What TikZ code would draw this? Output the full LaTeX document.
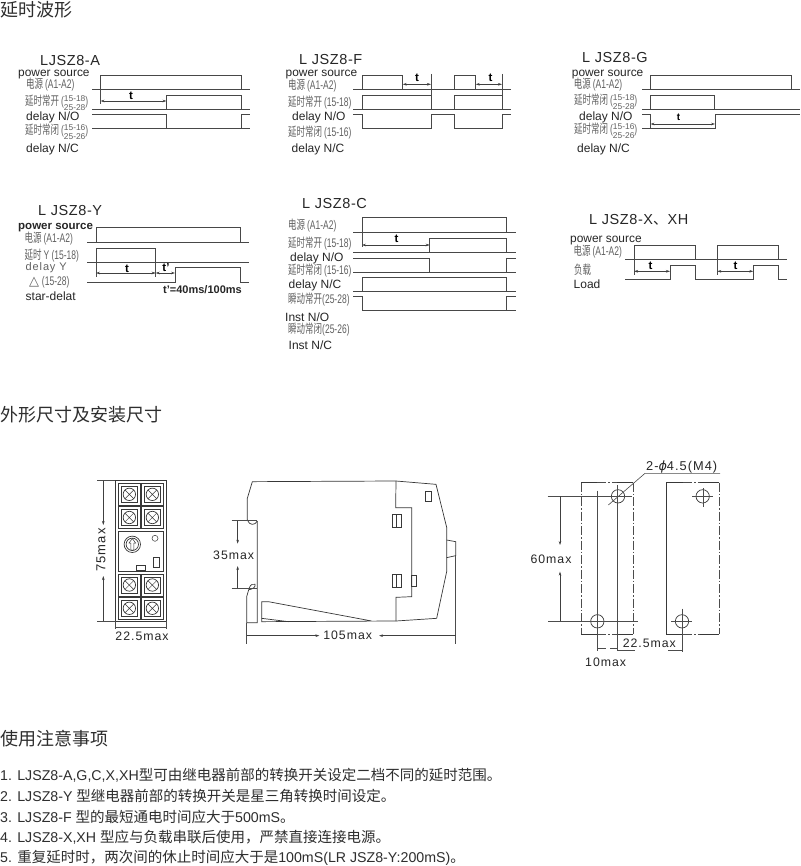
\documentclass[tikz,border=0pt]{standalone}
\usepackage{fontspec}
\usetikzlibrary{arrows.meta}
\setmainfont{Liberation Sans}
\newfontfamily\cjkf{Noto Sans CJK SC}
\newfontfamily\spacedf[LetterSpace=8]{Liberation Sans}
\newfontfamily\titlef[LetterSpace=4]{Liberation Sans}
\newfontfamily\dejaf{DejaVu Sans}
\newcommand\sz[1]{\fontsize{#1}{#1}\selectfont}
\newcommand\CJ[1]{{\cjkf #1}}
\newcommand\NC[1]{\scalebox{0.68}[1]{\sz{12.5}\cjkf #1}}
\newcommand\NL[1]{\scalebox{0.68}[1]{\sz{12.5}\selectfont #1}}
\newcommand\stk[2]{\raisebox{-0.34\height}{\sz{8.4}\shortstack{#1\\[0.3pt]#2}}}
\tikzset{
  x=1pt,y=-1pt,
  wave/.style={draw=black!72,line width=0.9pt},
  thin line/.style={draw=black!70,line width=0.6pt},
  outlinestroke/.style={draw=black!78,line width=0.7pt},
  dimarrow/.style={draw=black!75,line width=0.55pt,-{Stealth[length=4pt,width=2.6pt]}},
  biarrow/.style={draw=black!75,line width=0.55pt,{Stealth[length=4pt,width=2.6pt]}-{Stealth[length=4pt,width=2.6pt]}},
  dashdotline/.style={draw=black!70,line width=0.7pt,dash pattern=on 9pt off 2pt on 1.5pt off 2pt},
  lab/.style={anchor=west,inner sep=0pt,text=black!85},
  en/.style={lab,font=\sz{12},yshift=-0.8pt},
  ps/.style={lab,font=\sz{11.9},yshift=-2.5pt},
  cn/.style={lab,text=black!62},
  titlelab/.style={lab,font=\sz{14.5}\titlef,yshift=-1.5pt},
  dimlab/.style={inner sep=0pt,text=black!85,font=\sz{12.3}\spacedf},
  tlab/.style={inner sep=0pt,text=black,font=\sz{11.5}\bfseries},
  heading/.style={lab,font=\sz{18}\cjkf,text=black!82,yshift=-0.7pt},
  note/.style={lab,font=\sz{14.2},text=black!82},
}
\newcommand\terminal[4]{%
  \draw[outlinestroke,line width=0.9pt] (#1,#2) rectangle (#3,#4);
  \draw[outlinestroke] (#1+2.5,#2+3) rectangle (#3-2.5,#4-3);
  \draw[outlinestroke] ({(#1+#3)/2},{(#2+#4)/2}) circle (6.2);
  \draw[outlinestroke,line width=0.5pt] ({(#1+#3)/2-4.4},{(#2+#4)/2-4.4}) -- ({(#1+#3)/2+4.4},{(#2+#4)/2+4.4})
     ({(#1+#3)/2-4.4},{(#2+#4)/2+4.4}) -- ({(#1+#3)/2+4.4},{(#2+#4)/2-4.4});
}
\begin{document}
\begin{tikzpicture}
\path[use as bounding box,fill=white] (0,0) rectangle (800,866);

% headings
\node[heading] (h1) at (0,9) {延时波形};
\node[heading] (h2) at (0,414) {外形尺寸及安装尺寸};
\node[heading] (h3) at (0,738) {使用注意事项};

% ---------- A
\node[titlelab] (ta) at (40,59) {LJSZ8-A};
\node[ps] at (18,72) {power source};
\node[cn] at (26,85) {\NC{电源 }\NL{(A1-A2)}};
\node[cn] at (25,102.5) {\NC{延时常开 }\NL{(}\stk{15-18}{25-28}\NL{)}};
\node[en] at (26,116.7) {delay N/O};
\node[cn] at (25,131.5) {\NC{延时常闭 }\NL{(}\stk{15-16}{25-26}\NL{)}};
\node[en] at (26,149) {delay N/C};
\draw[wave] (92,89.5) -- (250,89.5) (100.5,89.5) |- (241,75.5) -- (241,89.5);
\draw[wave] (92,109.5) -- (250,109.5) (166.5,109.5) |- (241,95.7) -- (241,109.5);
\draw[wave] (92,114.2) -- (166.5,114.2) -- (166.5,128.5) -- (241,128.5) (92,128.5) -- (250,128.5) (241,128.5) |- (250,114.2);
\draw[thin line] (100.5,89.5) -- (100.5,104);
\draw[biarrow] (100.5,101) -- (166.5,101);
\node[tlab] at (131,95.5) {t};

% ---------- F
\node[titlelab] at (299,58) {L JSZ8-F};
\node[ps] at (285.5,72) {power source};
\node[cn] at (288,86) {\NC{电源 }\NL{(A1-A2)}};
\node[cn] at (288,103) {\NC{延时常开 }\NL{(15-18)}};
\node[en] at (292,116.5) {delay N/O};
\node[cn] at (288,133) {\NC{延时常闭 }\NL{(15-16)}};
\node[en] at (291.5,149) {delay N/C};
\draw[wave] (353,89.5) -- (511,89.5)
  (362,89.5) |- (402.7,75.5) -- (402.7,89.5)
  (454,89.5) |- (475.7,75.5) -- (475.7,89.5);
\draw[wave] (353,109.5) -- (511,109.5)
  (362,109.5) |- (431,95.7) -- (431,109.5)
  (454,109.5) |- (502,95.7) -- (502,109.5);
\draw[wave] (353,114.5) -- (362,114.5) -- (362,128.5) -- (431,128.5) -- (431,114.5) -- (454,114.5) -- (454,128.5) -- (502,128.5) -- (502,114.5) -- (511,114.5);
\draw[thin line] (431,74) -- (431,95.7) (502,74) -- (502,95.7);
\draw[biarrow] (402.7,84.3) -- (431,84.3);
\draw[biarrow] (475.7,84.3) -- (502,84.3);
\node[tlab] at (417,78) {t};
\node[tlab] at (490.5,78) {t};

% ---------- G
\node[titlelab] at (582,56) {L JSZ8-G};
\node[ps] at (571.7,72) {power source};
\node[cn] at (573.7,85) {\NC{电源 }\NL{(A1-A2)}};
\node[cn] at (574,102) {\NC{延时常闭 }\NL{(}\stk{15-18}{25-28}\NL{)}};
\node[en] at (579,116.5) {delay N/O};
\node[cn] at (574,131) {\NC{延时常闭 }\NL{(}\stk{15-16}{25-26}\NL{)}};
\node[en] at (577,149) {delay N/C};
\draw[wave] (642,89.5) -- (800,89.5) (650.5,89.5) |- (791,75.5) -- (791,89.5);
\draw[wave] (642,109.5) -- (800,109.5) (650.5,109.5) |- (714.7,95.7) -- (714.7,109.5);
\draw[wave] (642,114.5) -- (650.5,114.5) -- (650.5,128.5) -- (715,128.5) -- (715,114.5) -- (800,114.5) (642,128.5) -- (650.5,128.5);
\draw[biarrow] (650.5,124) -- (715,124);
\node[tlab,font=\sz{10}\bfseries] at (678.5,117.5) {t};

% ---------- Y
\node[titlelab] at (38,209) {L JSZ8-Y};
\node[ps,font=\sz{11.5}\bfseries] at (18,225) {power source};
\node[cn] at (24.5,239) {\NC{电源 }\NL{(A1-A2)}};
\node[cn] at (24.5,256) {\NC{延时 }\NL{Y (15-18)}};
\node[lab,text=black!62,font=\sz{11}\spacedf] at (25.5,268) {delay Y};
\node[cn] at (29,282) {{\sz{13}\dejaf △} \NL{(15-28)}};
\node[en] at (25.5,295) {star-delat};
\draw[wave] (87,242) -- (249,242) (96,242) |- (240,227.7) -- (240,242);
\draw[wave] (87,262.7) -- (249,262.7) (96,262.7) |- (155.7,248.3) -- (155.7,262.7);
\draw[wave] (87,282.3) -- (175.5,282.3) -- (175.5,267.7) -- (240,267.7) -- (240,282.3) -- (249,282.3);
\draw[thin line] (96,262.7) -- (96,277) (155.7,262.7) -- (155.7,277);
\draw[biarrow] (96,273) -- (155.7,273);
\draw[biarrow] (155.7,273) -- (175,273);
\node[tlab] at (127,268.5) {t};
\node[tlab] at (166,268) {t'};
\node[lab,font=\sz{11}\bfseries,text=black!85] at (163,290) {t'=40ms/100ms};

% ---------- C
\node[titlelab] at (302,202) {L JSZ8-C};
\node[cn] at (288,226) {\NC{电源 }\NL{(A1-A2)}};
\node[cn] at (288,243.5) {\NC{延时常开 }\NL{(15-18)}};
\node[en] at (290,257.3) {delay N/O};
\node[cn] at (288,270.5) {\NC{延时常闭 }\NL{(15-16)}};
\node[en] at (288.5,285) {delay N/C};
\node[cn] at (288,300) {\NC{瞬动常开}\NL{(25-28)}};
\node[en] at (285,316) {Inst N/O};
\node[cn] at (288,330) {\NC{瞬动常闭}\NL{(25-26)}};
\node[en] at (288.5,344) {Inst N/C};
\draw[wave] (353,232.3) -- (516,232.3) (362,232.3) |- (506.7,217.7) -- (506.7,232.3);
\draw[wave] (353,252.7) -- (516,252.7) (429.7,252.7) |- (506.7,238.3) -- (506.7,252.7);
\draw[wave] (353,258) -- (429.7,258) -- (429.7,272.3) (353,272.3) -- (516,272.3) (506.7,272.3) |- (516,258);
\draw[wave] (353,291.7) -- (516,291.7) (362,291.7) |- (506.7,277.3) -- (506.7,291.7);
\draw[wave] (353,296.3) -- (362,296.3) -- (362,310.3) -- (516,310.3) (506.7,310.3) |- (516,296.3);
\draw[thin line] (362,232.3) -- (362,247);
\draw[biarrow] (362,245) -- (429.7,245);
\node[tlab] at (396.5,238.5) {t};

% ---------- X
\node[titlelab] at (589,218) {L JSZ8-X{\cjkf 、}XH};
\node[ps] at (570,238) {power source};
\node[cn] at (573.5,252) {\NC{电源 }\NL{(A1-A2)}};
\node[cn] at (574,269.5) {\NC{负载}};
\node[en] at (573.5,283) {Load};
\draw[wave] (625,259.3) -- (787,259.3)
  (634,259.3) |- (695,245) -- (695,259.3)
  (717.3,259.3) |- (778.3,245) -- (778.3,259.3);
\draw[wave] (625,279.3) -- (670,279.3) -- (670,265.7) -- (695,265.7) -- (695,279.3) -- (753.3,279.3) -- (753.3,265.7) -- (778.3,265.7) -- (778.3,279.3) -- (787,279.3);
\draw[thin line] (634,259.3) -- (634,275) (717.3,259.3) -- (717.3,275);
\draw[biarrow] (634,271.3) -- (670,271.3);
\draw[biarrow] (717.3,271.3) -- (753.3,271.3);
\node[tlab] at (650.5,266) {t};
\node[tlab] at (735.5,266) {t};

% ---------- front view
\draw[outlinestroke] (115,480.5) rectangle (166,621);
\terminal{118.7}{483.7}{140}{505}
\terminal{141.7}{483.7}{163}{505}
\terminal{118.7}{506.7}{140}{528.3}
\terminal{141.7}{506.7}{163}{528.3}
\terminal{118.7}{574}{140}{596}
\terminal{141.7}{574}{163}{596}
\terminal{118.7}{597.3}{140}{619.3}
\terminal{141.7}{597.3}{163}{619.3}
\draw[outlinestroke] (118.7,531) rectangle (163,571.7);
\draw[outlinestroke] (132.3,544.3) circle (8.2) (132.3,544.3) circle (6.2);
\draw[outlinestroke,line width=0.5pt] (130.8,550) -- (130.8,543) -- (129,543) -- (132.3,538.5) -- (135.6,543) -- (133.8,543) -- (133.8,550) -- cycle;
\draw[outlinestroke,line width=0.5pt] (155,538.3) circle (3);
\draw[outlinestroke] (153.3,557.7) rectangle (159,567.3);
\draw[outlinestroke] (136.7,565) rectangle (145.7,570.3);
\draw[thin line] (97,480.5) -- (115,480.5) (97,621) -- (115,621);
\draw[thin line] (115,621) -- (115,629) (166,621) -- (166,629);
\draw[thin line] (115,627) -- (166,627);
\draw[dimarrow] (103.3,480.5) -- (103.3,525);
\draw[dimarrow] (103.3,621) -- (103.3,576);
\node[dimlab,rotate=90,font=\sz{13}\spacedf] at (101,550) {75max};
\node[dimlab] at (142,636) {22.5max};

% ---------- side view
\begin{scope}[shift={(200pt,-465pt)},x=0.33333pt,y=-0.33333pt]
\draw[outlinestroke] (172,168) .. controls (165,182) and (148,182) .. (142,165) -- (142,100) -- (157,50) -- (588,48) -- (708,58) -- (740,187) -- (740,320) -- (710,460) -- (588,468) -- (185,470) -- (185,410) -- (205,410) -- (515,468);
\draw[outlinestroke] (185,460) -- (265,470);
\draw[outlinestroke] (172,168) -- (172,473) -- (140,473) -- (140,395) -- (148,368) .. controls (152,358) and (160,355) .. (165,358) .. controls (168,364) and (160,372) .. (148,374);
\draw[outlinestroke] (588,48) -- (587,128) -- (635,128) -- (635,395) -- (588,397) -- (588,468);
\draw[outlinestroke] (676,78) rectangle (694,108);
\draw[outlinestroke] (577,148) rectangle (604,186) (590,148) -- (590,186);
\draw[outlinestroke] (577,328) rectangle (604,366) (590,328) -- (590,366);
\draw[outlinestroke] (635,330) rectangle (650,364);
\draw[outlinestroke] (740,225) -- (767,230) -- (767,272) -- (740,278);
\draw[thin line] (767,272) -- (767,538) (140,473) -- (140,538);
\draw[dimarrow] (140,512) -- (358,512);
\draw[dimarrow] (767,512) -- (537,512);
\draw[thin line] (95,167) -- (172,167) (95,370) -- (172,370);
\draw[dimarrow] (113,167) -- (113,236);
\draw[dimarrow] (113,370) -- (113,303);
\node[dimlab] at (101,270) {35max};
\node[dimlab] at (443,510) {105max};
\end{scope}

% ---------- mounting view
\begin{scope}[shift={(520pt,-450pt)},x=0.33333pt,y=-0.33333pt]
\draw[outlinestroke] (232,98) -- (184,98) (184,553) -- (232,553) (290,98) -- (340,98) (290,553) -- (340,553);
\draw[dashdotline] (232,98) -- (290,98) (232,553) -- (290,553);
\draw[dashdotline] (184,98) -- (184,553) (340,98) -- (340,553);
\draw[outlinestroke] (490,98) -- (440,98) -- (440,553) -- (490,553) (540,98) -- (597,98) (540,553) -- (597,553);
\draw[dashdotline] (490,98) -- (540,98) (490,553) -- (540,553) (597,98) -- (597,553);
\draw[outlinestroke] (294,139) circle (20) (232,514) circle (20) (548,139) circle (20) (486,514) circle (20);
\draw[thin line] (83,139) -- (337,139) (85,514) -- (353,514);
\draw[thin line] (232,122) -- (232,603) (293,105) -- (293,603);
\draw[thin line] (517,139) -- (580,139) (549,115) -- (549,172) (454,514) -- (517,514) (486,476) -- (486,607);
\draw[dimarrow] (120,139) -- (120,285);
\draw[dimarrow] (120,514) -- (120,365);
\draw[thin line] (265,165) -- (375,70) -- (600,70);
\draw[thin line] (232,596) -- (258,596);
\draw[thin line] (270,596) -- (293,596);
\draw[thin line] (293,600) -- (345,600) (445,600) -- (486,600);
\node[dimlab] at (93,327) {60max};
\node[dimlab] at (257,636) {10max};
\node[dimlab] at (388,580) {22.5max};
\node[dimlab,font=\sz{12.8}\spacedf] at (485,50) {2-{\dejaf\itshape ϕ}4.5(M4)};
\end{scope}

% ---------- notes
\node[note] at (0,775) {1. LJSZ8-A,G,C,X,XH\CJ{\sz{14.5}型可由继电器前部的转换开关设定二档不同的延时范围。}};
\node[note] at (0,795.5) {2. LJSZ8-Y \CJ{\sz{14.5}型继电器前部的转换开关是星三角转换时间设定。}};
\node[note] at (0,816.5) {3. LJSZ8-F \CJ{\sz{14.5}型的最短通电时间应大于}500mS\CJ{\sz{14.5}。}};
\node[note] at (0,837) {4. LJSZ8-X,XH \CJ{\sz{14.5}型应与负载串联后使用，严禁直接连接电源。}};
\node[note] at (0,857.5) {5. \CJ{\sz{14.5}重复延时时，两次间的休止时间应大于是}100mS(LR JSZ8-Y:200mS)\CJ{\sz{14.5}。}};
\end{tikzpicture}
\end{document}
